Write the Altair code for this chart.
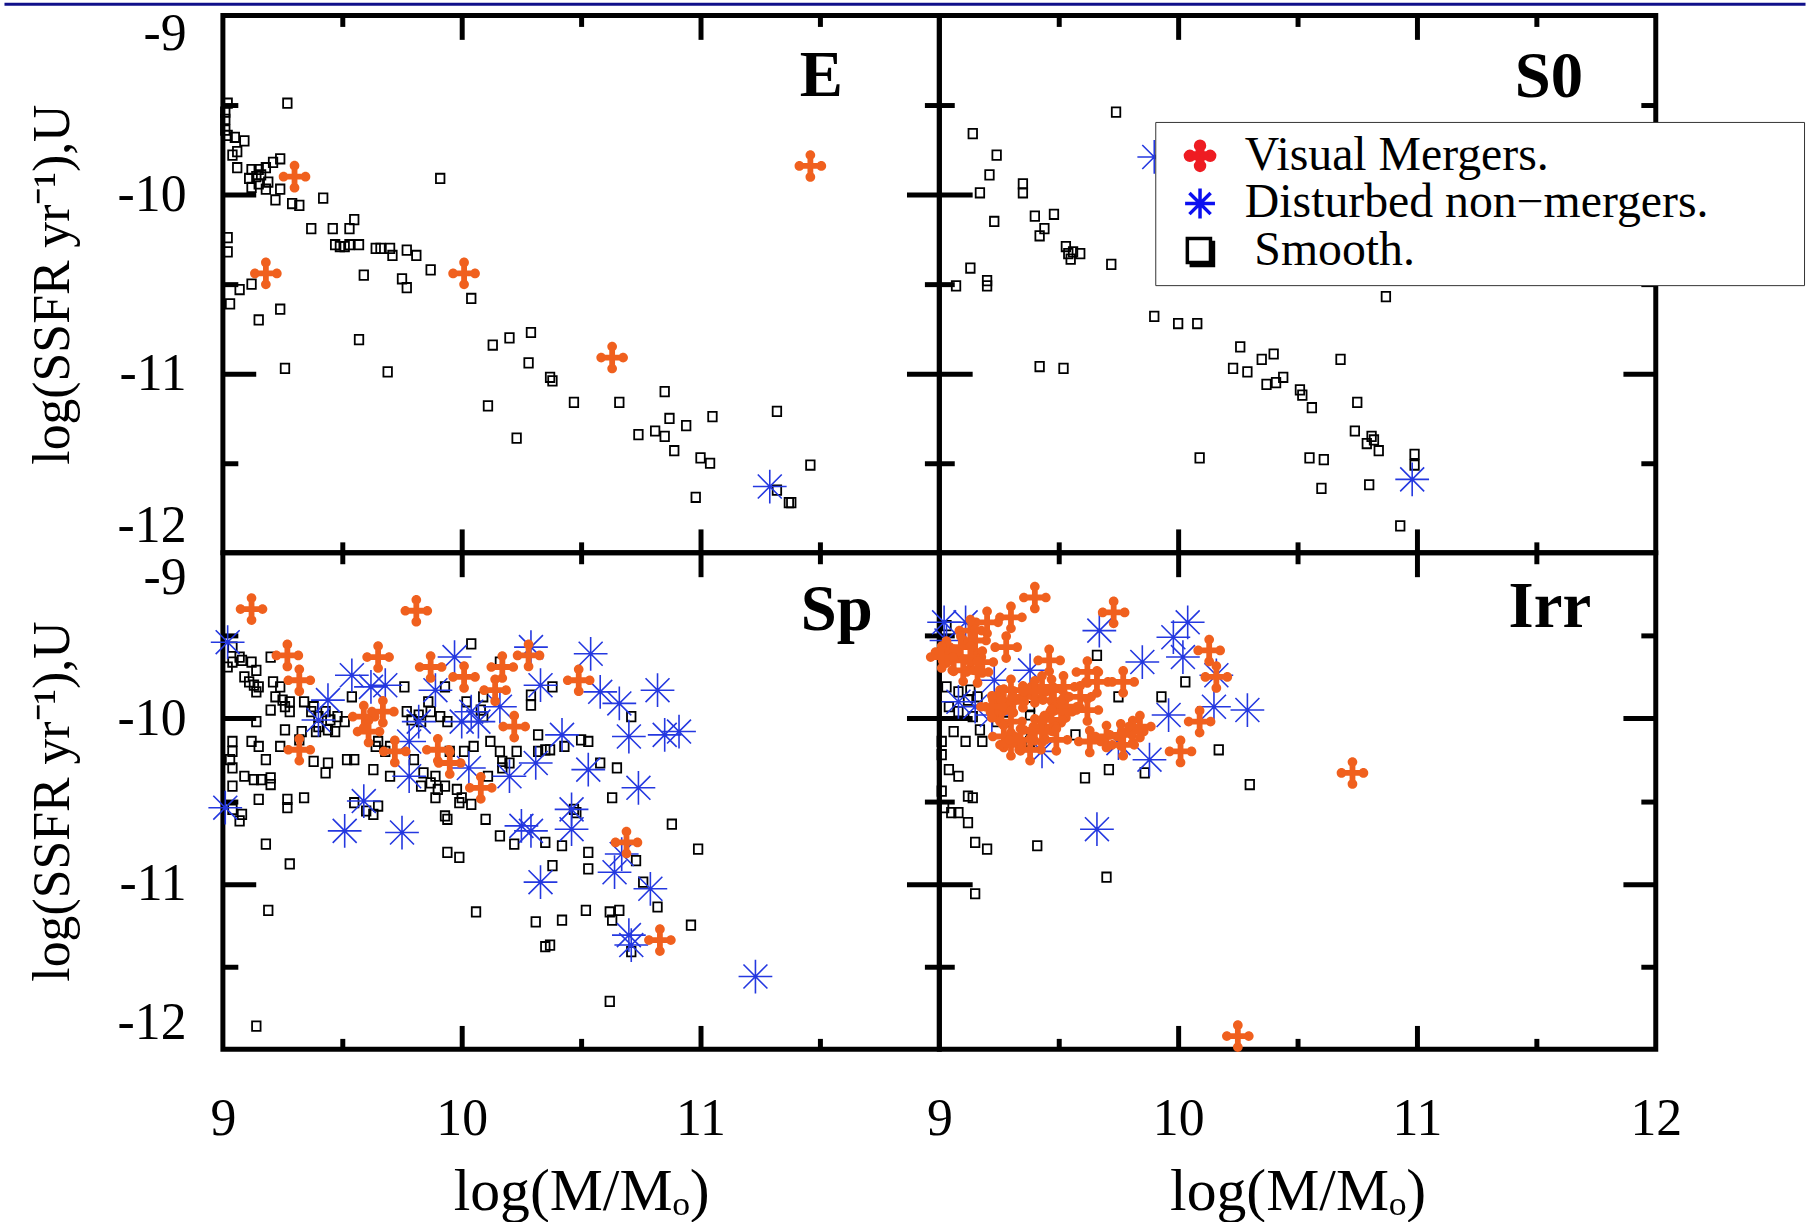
import altair as alt
import pandas as pd

FONT = "Liberation Serif"
PANELS = ["E", "S0", "Sp", "Irr"]
KINDS = ["Visual Mergers.", "Disturbed non\u2212mergers.", "Smooth."]
X_LABELS_LEFT = [9, 10, 11]
X_LABELS_RIGHT = [9, 10, 11, 12]
Y_LABELS = [-9, -10, -11, -12]
X_TICKS = [9.5, 10, 10.5, 11, 11.5]
Y_TICKS = [-9.5, -10, -10.5, -11, -11.5]

# ---------------- data ----------------
E_SMOOTH = [(9.27,-9.49),(9.01,-9.58),(9.01,-9.64),(9.02,-9.67),(9.05,-9.68),(9.09,-9.70),(9.06,-9.76),(9.04,-9.78),
            (9.06,-9.85),(9.12,-9.86),(9.15,-9.86),(9.18,-9.85),(9.21,-9.82),(9.24,-9.80),(9.11,-9.91),(9.14,-9.90),
            (9.16,-9.89),(9.19,-9.93),(9.12,-9.96),(9.15,-9.94),(9.18,-9.97),(9.24,-9.97),(9.22,-10.03),(9.29,-10.05),
            (9.32,-10.06),(9.42,-10.02),(9.91,-9.91),(9.55,-10.14),(9.53,-10.19),(9.46,-10.19),(9.37,-10.19),(9.47,-10.28),
            (9.49,-10.29),(9.51,-10.29),(9.53,-10.28),(9.57,-10.28),(9.64,-10.30),(9.66,-10.30),(9.70,-10.30),(9.71,-10.34),
            (9.77,-10.31),(9.81,-10.34),(9.87,-10.42),(9.59,-10.45),(9.75,-10.47),(9.77,-10.52),(10.04,-10.58),(9.02,-10.24),
            (9.02,-10.32),(9.12,-10.50),(9.07,-10.53),(9.03,-10.61),(9.24,-10.64),(9.15,-10.70),(9.57,-10.81),(9.26,-10.97),
            (9.69,-10.99),(10.13,-10.84),(10.20,-10.80),(10.29,-10.77),(10.28,-10.94),(10.37,-11.02),(10.38,-11.04),
            (10.11,-11.18),(10.47,-11.16),(10.66,-11.16),(10.23,-11.36),(10.85,-11.10),(10.87,-11.25),(10.74,-11.34),
            (10.81,-11.32),(10.85,-11.35),(10.94,-11.29),(11.05,-11.24),(10.89,-11.43),(11.00,-11.47),(11.04,-11.50),
            (11.32,-11.21),(11.46,-11.51),(10.98,-11.69),(11.32,-11.65),(11.37,-11.72),(11.38,-11.72),(9.01,-9.54),(9.02,-9.49)]
E_DISTURBED = [(11.29,-11.63)]
E_MERGERS = [(9.30,-9.90),(9.18,-10.44),(10.01,-10.44),(10.63,-10.91),(11.46,-9.84)]

S0_SMOOTH = [(9.74,-9.54),(9.14,-9.66),(9.24,-9.78),(9.21,-9.89),(9.17,-9.99),(9.35,-9.94),(9.35,-9.99),(9.23,-10.15),
             (9.40,-10.12),(9.48,-10.11),(9.44,-10.19),(9.42,-10.23),(9.53,-10.29),(9.54,-10.33),(9.56,-10.32),(9.59,-10.33),
             (9.55,-10.36),(9.72,-10.39),(9.13,-10.41),(9.20,-10.48),(9.20,-10.51),(9.07,-10.51),(9.90,-10.68),(10.00,-10.72),
             (10.08,-10.72),(10.87,-10.57),(10.26,-10.85),(10.35,-10.92),(10.40,-10.89),(10.68,-10.92),(10.23,-10.97),
             (10.29,-10.99),(10.44,-11.02),(10.37,-11.06),(10.41,-11.05),(10.51,-11.09),(10.52,-11.12),(10.56,-11.19),
             (10.75,-11.16),(9.42,-10.96),(9.52,-10.97),(10.09,-11.47),(10.55,-11.47),(10.61,-11.48),(10.74,-11.32),
             (10.81,-11.35),(10.82,-11.37),(10.79,-11.39),(10.84,-11.43),(10.99,-11.45),(10.99,-11.51),(10.60,-11.64),
             (10.80,-11.62),(10.93,-11.85)]
S0_DISTURBED = [(9.90,-9.79),(10.98,-11.59)]
S0_MERGERS = []

SP_SMOOTH = [(9.04,-9.57),(9.07,-9.63),(9.08,-9.65),(9.04,-9.66),(9.02,-9.69),(9.12,-9.66),(9.14,-9.71),(9.09,-9.75),
             (9.11,-9.78),(9.13,-9.80),(9.15,-9.81),(9.14,-9.84),(9.20,-9.63),(9.21,-9.78),(9.24,-9.81),(9.22,-9.87),
             (9.25,-9.89),(9.28,-9.90),(9.26,-9.93),(9.20,-9.95),(9.28,-9.96),(9.14,-10.02),(9.34,-9.90),(9.38,-9.93),
             (9.54,-9.87),(9.76,-9.81),(10.04,-9.55),(10.16,-9.66),(10.38,-9.81),(10.29,-9.86),(10.29,-9.92),(9.93,-9.81),
             (9.86,-9.90),(9.87,-9.96),(9.91,-9.99),(9.94,-10.02),(10.02,-9.90),(10.09,-9.87),(10.08,-9.95),(10.09,-9.99),
             (9.77,-9.96),(9.79,-10.01),(9.82,-9.98),(9.83,-10.02),(9.37,-9.96),(9.40,-9.99),(9.43,-9.96),(9.45,-10.01),
             (9.48,-9.99),(9.51,-10.02),(9.40,-10.05),(9.44,-10.07),(9.47,-10.08),(9.39,-10.08),(9.33,-10.08),(9.32,-10.13),
             (9.26,-10.07),(9.24,-10.17),(9.04,-10.14),(9.04,-10.20),(9.03,-10.25),(9.04,-10.30),(9.12,-10.14),(9.15,-10.17),
             (9.18,-10.25),(9.09,-10.35),(9.13,-10.37),(9.16,-10.37),(9.20,-10.36),(9.20,-10.40),(9.04,-10.41),(9.38,-10.26),
             (9.44,-10.27),(9.43,-10.33),(9.52,-10.25),(9.55,-10.25),(9.63,-10.31),(9.70,-10.35),(9.64,-10.17),(9.65,-10.14),
             (9.68,-10.20),(9.70,-10.17),(9.80,-10.25),(9.84,-10.33),(9.89,-10.35),(9.87,-10.39),(9.83,-10.41),(9.90,-10.43),
             (9.93,-10.41),(9.95,-10.20),(10.01,-10.20),(10.05,-10.17),(9.98,-10.43),(10.00,-10.48),(10.04,-10.52),
             (9.99,-10.51),(9.89,-10.48),(10.12,-10.14),(10.16,-10.20),(10.17,-10.26),(10.20,-10.27),(10.17,-10.30),
             (10.23,-10.20),(10.11,-10.35),(10.32,-10.20),(10.35,-10.19),(10.37,-10.19),(10.32,-10.10),(9.15,-10.49),
             (9.27,-10.49),(9.34,-10.48),(9.27,-10.54),(9.04,-10.55),(9.08,-10.58),(9.07,-10.62),(9.55,-10.51),(9.60,-10.56),
             (9.63,-10.58),(9.65,-10.53),(9.93,-10.59),(9.94,-10.61),(10.10,-10.61),(10.16,-10.71),(10.22,-10.76),
             (10.35,-10.75),(9.18,-10.76),(9.94,-10.81),(9.99,-10.84),(9.28,-10.88),(10.38,-10.89),(10.50,-10.13),
             (10.53,-10.14),(10.43,-10.17),(10.58,-10.27),(10.65,-10.30),(10.63,-10.48),(10.47,-10.55),(10.48,-10.57),
             (10.88,-10.64),(10.99,-10.79),(10.42,-10.77),(10.53,-10.81),(10.53,-10.91),(10.73,-10.86),(10.76,-10.99),
             (10.71,-9.99),(10.82,-11.14),(10.52,-11.16),(10.62,-11.17),(10.66,-11.16),(10.63,-11.22),(10.42,-11.22),
             (10.35,-11.38),(10.37,-11.37),(10.96,-11.25),(10.71,-11.41),(9.19,-11.16),(10.06,-11.17),(10.31,-11.23),
             (10.62,-11.71),(9.14,-11.86)]
SP_DISTURBED = [(9.02,-9.54),(9.54,-9.74),(9.62,-9.81),(9.68,-9.80),(9.97,-9.63),(10.29,-9.57),(10.33,-9.80),(9.89,-9.83),
                (9.44,-9.89),(10.04,-9.96),(10.00,-10.02),(10.07,-10.02),(10.16,-9.93),(9.82,-10.02),(9.78,-10.14),
                (9.40,-10.01),(10.03,-10.30),(10.20,-10.35),(10.31,-10.27),(9.78,-10.35),(9.59,-10.50),(9.51,-10.68),
                (9.75,-10.69),(10.25,-10.65),(10.29,-10.68),(10.33,-10.99),(9.01,-10.54),(10.54,-9.61),(10.58,-9.84),
                (10.66,-9.91),(10.82,-9.83),(10.42,-10.10),(10.70,-10.11),(10.85,-10.10),(10.91,-10.08),(10.53,-10.31),
                (10.74,-10.42),(10.46,-10.55),(10.46,-10.67),(10.64,-10.93),(10.67,-10.82),(10.79,-11.03),(10.70,-11.31),
                (10.71,-11.37),(11.23,-11.56)]
SP_MERGERS = [(9.12,-9.34),(9.81,-9.35),(9.27,-9.62),(9.32,-9.77),(9.65,-9.63),(9.87,-9.69),(10.01,-9.75),(10.17,-9.69),
              (10.28,-9.62),(10.14,-9.83),(9.59,-9.99),(9.67,-9.96),(9.61,-10.08),(10.22,-10.05),(9.32,-10.19),(9.72,-10.20),
              (9.90,-10.19),(9.95,-10.27),(10.08,-10.42),(10.49,-9.77),(10.69,-10.75),(10.83,-11.34)]

IRR_SMOOTH = [(9.03,-9.44),(9.66,-9.62),(9.03,-9.81),(9.08,-9.84),(9.12,-9.89),(9.04,-9.93),(9.08,-9.96),(9.14,-9.99),
              (9.16,-9.87),(9.13,-9.83),(10.03,-9.78),(9.75,-9.87),(9.93,-9.87),(9.24,-10.02),(9.28,-10.02),(9.06,-10.08),
              (9.11,-10.14),(9.18,-10.14),(9.01,-10.14),(9.01,-10.22),(9.35,-10.11),(9.38,-10.14),(9.57,-10.10),
              (10.17,-10.19),(9.71,-10.31),(9.61,-10.36),(9.86,-10.33),(10.30,-10.40),(9.04,-10.31),(9.08,-10.35),
              (9.01,-10.44),(9.12,-10.47),(9.14,-10.48),(9.02,-10.54),(9.05,-10.57),(9.08,-10.57),(9.12,-10.63),
              (9.15,-10.75),(9.20,-10.79),(9.41,-10.77),(9.70,-10.96),(9.15,-11.06),(9.17,-10.07),(9.38,-9.93),(9.38,-9.98)]
IRR_DISTURBED = [(9.02,-9.42),(9.03,-9.53),(9.11,-9.42),(9.67,-9.47),(9.38,-9.71),(9.23,-9.77),(9.85,-9.66),(10.04,-9.42),
                 (9.98,-9.51),(10.02,-9.63),(10.16,-9.74),(9.08,-9.90),(9.15,-9.93),(9.22,-9.98),(9.96,-9.98),(10.15,-9.93),
                 (10.29,-9.95),(9.43,-10.20),(9.75,-10.15),(9.88,-10.25),(9.66,-10.67)]
IRR_MERGERS = [(9.40,-9.27),(9.30,-9.39),(9.20,-9.42),(9.13,-9.47),(9.73,-9.36),(9.28,-9.57),(9.15,-9.53),(9.09,-9.57),
               (9.06,-9.65),(9.13,-9.63),(9.18,-9.66),(9.10,-9.71),(9.03,-9.60),(9.01,-9.63),(9.16,-9.72),(9.46,-9.65),
               (9.62,-9.72),(9.66,-9.78),(9.77,-9.78),(9.52,-9.81),(9.47,-9.83),(9.43,-9.81),(9.30,-9.83),(9.27,-9.89),
               (9.31,-9.90),(9.24,-9.93),(9.35,-9.87),(9.40,-9.84),(9.48,-9.89),(9.53,-9.93),(9.51,-9.96),(9.47,-10.01),
               (9.44,-10.05),(9.40,-10.07),(9.43,-10.08),(9.62,-9.95),(9.59,-9.87),(9.26,-9.96),(9.22,-9.93),(9.30,-10.02),
               (9.27,-10.11),(9.30,-10.16),(9.38,-10.19),(9.34,-10.13),(9.49,-10.13),(9.63,-10.14),(9.70,-10.11),
               (9.76,-10.10),(9.81,-10.08),(9.84,-10.05),(9.77,-10.16),(10.01,-10.20),(10.13,-9.59),(10.16,-9.75),
               (10.09,-10.02),(10.73,-10.33),(10.25,-11.92)]

SERIES = {
    "E": (E_MERGERS, E_DISTURBED, E_SMOOTH),
    "S0": (S0_MERGERS, S0_DISTURBED, S0_SMOOTH),
    "Sp": (SP_MERGERS, SP_DISTURBED, SP_SMOOTH),
    "Irr": (IRR_MERGERS, IRR_DISTURBED, IRR_SMOOTH),
}
rows = []
for p, groups in SERIES.items():
    for kind, pts in zip(KINDS, groups):
        for x, y in pts:
            rows.append({"panel": p, "kind": kind, "x": x, "y": y})
df = pd.DataFrame(rows)

# ---------------- styles ----------------
ORANGE = "#f0601e"
BLUE = "#2438e0"
LEG_RED = "#ee1c22"
LEG_BLUE = "#0c10f0"
NAVY = "#10108a"
SQUARE = "M-0.9,-1H0.9V1H-0.9Z"
STAR = "M0,-1V1M-1,0H1M-0.71,-0.71L0.71,0.71M-0.71,0.71L0.71,-0.71"
CROSS = ("M-0.18,-0.7H0.18V0.7H-0.18Z M-0.7,-0.18H0.7V0.18H-0.7Z "
         "M-0.3,-0.68A0.3,0.3 0 1,1 0.3,-0.68A0.3,0.3 0 1,1 -0.3,-0.68Z "
         "M-0.3,0.68A0.3,0.3 0 1,1 0.3,0.68A0.3,0.3 0 1,1 -0.3,0.68Z "
         "M-0.98,0A0.3,0.3 0 1,1 -0.38,0A0.3,0.3 0 1,1 -0.98,0Z "
         "M0.38,0A0.3,0.3 0 1,1 0.98,0A0.3,0.3 0 1,1 0.38,0Z")
LEG_SQUARE = "M-0.85,-0.85H0.7V0.75H-0.85Z M-0.7,0.95H0.9V-0.7"

XS = alt.Scale(domain=[9, 12], nice=False, zero=False)
YS = alt.Scale(domain=[-12, -9], nice=False, zero=False)
W = 720


def tick_axis(orient, offset, vals, major, minor):
    return alt.Axis(orient=orient, offset=offset, values=vals, labels=False, domain=False, grid=False,
                    title=None, ticks=True, tickColor="black", tickWidth=5,
                    tickSize={"condition": {"test": "datum.value % 1 === 0", "value": major}, "value": minor})


def xlab_axis(vals):
    return alt.Axis(orient="bottom", offset=0, values=vals, ticks=False, domain=False, grid=False,
                    labelFont=FONT, labelFontSize=52, labelColor="black", labelPadding=45, labelFlush=False,
                    title="log(M/M\u2092)", titleFont=FONT, titleFontSize=60, titleFontWeight="normal",
                    titleColor="black", titlePadding=18)


def ylab_axis(top):
    return alt.Axis(orient="left", offset=0, values=Y_LABELS, ticks=False, domain=False, grid=False,
                    labelFont=FONT, labelFontSize=52, labelColor="black", labelPadding=37, labelFlush=True,
                    labelOffset={"condition": {"test": "datum.value == -9", "value": -7 if top else 0}, "value": 0},
                    labelExpr="'-' + abs(datum.value)",
                    title="log(SSFR yr\u207b\u00b9),U", titleFont=FONT, titleFontSize=52,
                    titleFontWeight="normal", titleColor="black", titlePadding=38)


# legend: the box runs on to the picture's right edge, so the labels carry trailing blank room
legend = alt.Legend(orient="none", legendX=937, legendY=107, title=None,
                    labelFont=FONT, labelFontSize=48,
                    labelColor="black", labelLimit=900, symbolSize=900, symbolStrokeWidth=3.5,
                    symbolFillColor="transparent", symbolStrokeColor="black", symbolOpacity=1,
                    padding=10, rowPadding=0, symbolOffset=11, labelOffset=21,
                    strokeColor="#333333", fillColor="white",
                    labelExpr="(datum.label == 'Smooth.' ? '\u200b\u2009' : '') + datum.label + '\u2003\u2002\u2009\u200a\u200b'")


def panel(name, h, xlabels, ylabels, lx, ly, with_legend=False, with_bar=False):
    base = alt.Chart(df).transform_filter(alt.datum.panel == name)
    x_ax = xlab_axis(xlabels) if xlabels else None
    y_ax = ylab_axis(h > 520) if ylabels else None
    smooth = base.transform_filter(alt.datum.kind == KINDS[2]).mark_point(
        shape=SQUARE, size=90, filled=False, stroke="black", strokeWidth=1.8, opacity=1
    ).encode(x=alt.X("x:Q", scale=XS, axis=x_ax), y=alt.Y("y:Q", scale=YS, axis=y_ax))
    dist = base.transform_filter(alt.datum.kind == KINDS[1]).mark_point(
        shape=STAR, size=1150, filled=False, stroke=BLUE, strokeWidth=1.6, opacity=1
    ).encode(x=alt.X("x:Q", scale=XS, axis=tick_axis("top", -h, X_TICKS, 24, 11)),
             y=alt.Y("y:Q", scale=YS, axis=tick_axis("right", -W, Y_TICKS, 33, 15)))
    merg = base.transform_filter(alt.datum.kind == KINDS[0]).mark_point(
        shape=CROSS, size=1050, filled=True, fill=ORANGE, strokeWidth=0, opacity=1
    ).encode(x=alt.X("x:Q", scale=XS, axis=tick_axis("bottom", -h, X_TICKS, 24, 11)),
             y=alt.Y("y:Q", scale=YS, axis=tick_axis("left", -W, Y_TICKS, 33, 15)))
    label = alt.Chart(pd.DataFrame({"t": [name]})).mark_text(
        font=FONT, fontSize=65, fontWeight="bold", align="right", baseline="alphabetic", color="black"
    ).encode(text="t:N", x=alt.value(lx), y=alt.value(ly))
    layers = [smooth, dist, merg, label]
    if with_bar:
        # slide's navy top rule across the whole picture
        bar = alt.Chart(pd.DataFrame({"t": [0]})).mark_rule(color=NAVY, strokeWidth=3).encode(
            x=alt.value(-219.5), x2=alt.value(1590.5), y=alt.value(-11.2))
        layers.append(bar)
    if with_legend:
        leg = alt.Chart(df).transform_filter("false").mark_point(filled=False, opacity=1, strokeWidth=3.5).encode(
            shape=alt.Shape("kind:N", scale=alt.Scale(domain=KINDS, range=[CROSS, STAR, LEG_SQUARE]), legend=legend),
            fill=alt.Fill("kind:N", scale=alt.Scale(domain=KINDS, range=[LEG_RED, "transparent", "transparent"]), legend=legend),
            stroke=alt.Stroke("kind:N", scale=alt.Scale(domain=KINDS, range=[LEG_RED, LEG_BLUE, "black"]), legend=legend),
        )
        layers.append(leg)
    return alt.layer(*layers).resolve_axis(x="independent", y="independent").properties(width=W, height=h)


E = panel("E", 540, None, True, 623, 81, with_bar=True)
S0 = panel("S0", 540, None, False, 647, 82, with_legend=True)
Sp = panel("Sp", 499, X_LABELS_LEFT, True, 653, 78)
Irr = panel("Irr", 499, X_LABELS_RIGHT, False, 655, 75)

chart = alt.concat(E, S0, Sp, Irr, columns=2, spacing=0, bounds="flush").properties(
    padding={"left": 0, "top": -3.5, "right": 0, "bottom": 0}
).configure_view(stroke="black", strokeWidth=5)

chart.save("out.html", embed_options={"renderer": "svg", "actions": False})
